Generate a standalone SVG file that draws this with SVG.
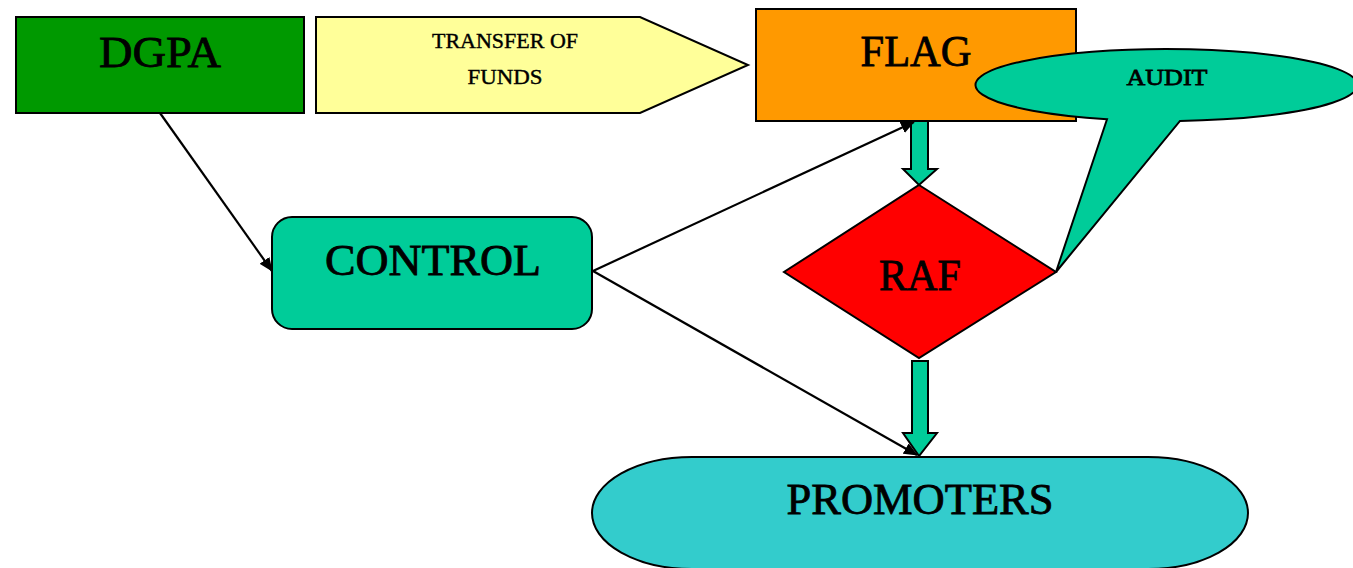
<svg xmlns="http://www.w3.org/2000/svg" width="1353" height="568" viewBox="0 0 1353 568">
<style>
.n{stroke:#000;stroke-width:2}
.t{font-family:"Liberation Serif","Times New Roman",serif;fill:#000;text-anchor:middle;stroke:#000;stroke-width:0.8}
.big{font-size:44px}
.sm{font-size:21px;stroke-width:0.4}
.ln{stroke:#000;stroke-width:2.2;fill:none}
.blk{fill:#00CC99;stroke:#000;stroke-width:2}
</style>
<defs>
<marker id="ah" viewBox="0 0 14 12" refX="13" refY="6" markerWidth="14" markerHeight="12" markerUnits="userSpaceOnUse" orient="auto">
<path d="M0,0 L14,6 L0,12 Z" fill="#000"/>
</marker>
</defs>
<rect width="1353" height="568" fill="#fff"/>
<g id="dgpa">
<rect class="n" x="16" y="17" width="288" height="96" fill="#009900"/>
<text class="t big" x="160" y="67" textLength="122" lengthAdjust="spacingAndGlyphs">DGPA</text>
</g>
<g id="transfer">
<path class="n" d="M316,17 L640,17 L748,65 L640,113 L316,113 Z" fill="#FFFF99"/>
<text class="t sm" x="505" y="48" textLength="146" lengthAdjust="spacingAndGlyphs">TRANSFER OF</text>
<text class="t sm" x="505" y="84" textLength="75" lengthAdjust="spacingAndGlyphs">FUNDS</text>
</g>
<g id="flag">
<rect class="n" x="756" y="9" width="320" height="112" fill="#FF9900"/>
<text class="t big" x="916" y="66" textLength="111" lengthAdjust="spacingAndGlyphs">FLAG</text>
</g>
<g id="control">
<rect class="n" x="272" y="217" width="320" height="112" rx="20" fill="#00CC99"/>
<text class="t big" x="433" y="275" textLength="216" lengthAdjust="spacingAndGlyphs">CONTROL</text>
</g>
<g id="raf">
<path class="n" d="M919,185 L1056,272 L919,358 L784,272 Z" fill="#FF0000"/>
<text class="t big" x="920" y="290" textLength="82" lengthAdjust="spacingAndGlyphs">RAF</text>
</g>
<g id="promoters">
<rect class="n" x="592" y="457" width="656" height="112" rx="100" ry="56" fill="#33CCCC"/>
<text class="t big" x="920" y="514" textLength="267" lengthAdjust="spacingAndGlyphs">PROMOTERS</text>
</g>
<g id="connectors">
<path class="blk" d="M911,121 L928,121 L928,169 L937,169 L919,185 L903,169 L911,169 Z"/>
<path class="blk" d="M912,361 L928,361 L928,433 L937,433 L919,456 L903,433 L912,433 Z"/>
<line class="ln" x1="160" y1="113" x2="272" y2="271" marker-end="url(#ah)"/>
<line class="ln" x1="593" y1="271" x2="914" y2="122" marker-end="url(#ah)"/>
<line class="ln" x1="593" y1="271" x2="917" y2="455" marker-end="url(#ah)"/>
</g>
<g id="audit">
<path class="n" d="M1107,119.2 A191,36 0 1,1 1180,120.9 L1056,272 Z" fill="#00CC99"/>
<text class="t" x="1167" y="85" font-size="24" stroke-width="0.4" textLength="81" lengthAdjust="spacingAndGlyphs">AUDIT</text>
</g>
</svg>
